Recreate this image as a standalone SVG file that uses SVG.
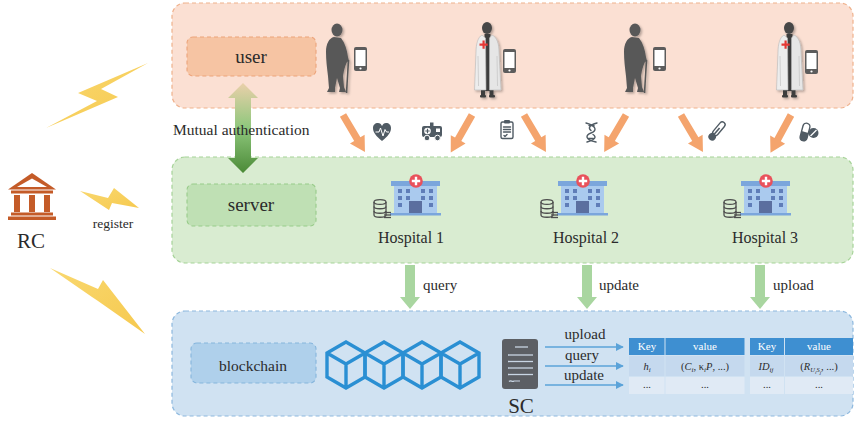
<svg xmlns="http://www.w3.org/2000/svg" xmlns:xlink="http://www.w3.org/1999/xlink" width="857" height="422" viewBox="0 0 857 422">
  <style>
    .serif { font-family: "Liberation Serif", "DejaVu Serif", serif; fill: #2b2b2b; }
    .panel { stroke-width: 1.2; stroke-dasharray: 4 3; }
    .lbl { stroke-width: 1.1; stroke-dasharray: 4 3; }
    .ico { fill: #505b64; }
    .icoS { fill: none; stroke: #505b64; stroke-width: 1.4; stroke-linecap: round; stroke-linejoin: round; }
    .bolt { fill: url(#boltGrad); }
    .cube { fill: none; stroke: #2a8fd3; stroke-width: 3.4; stroke-linejoin: miter; }
    .th { font-family: "Liberation Serif", serif; font-size: 11px; fill: #ffffff; text-anchor: middle; }
    .td { font-family: "Liberation Serif", serif; font-size: 10.5px; fill: #2b2b2b; text-anchor: middle; }
    .sc-line { stroke: #5ba3d9; stroke-width: 1.4; fill: none; }
    .bank { fill: #c45b28; }
  </style>
  <defs>
    <linearGradient id="authGrad" x1="0" y1="0" x2="0" y2="1">
      <stop offset="0" stop-color="#ead0aa"/>
      <stop offset="0.5" stop-color="#8ec77c"/>
      <stop offset="1" stop-color="#4b8a37"/>
    </linearGradient>
    <linearGradient id="boltGrad" x1="0" y1="0" x2="1" y2="1">
      <stop offset="0" stop-color="#f9d870"/>
      <stop offset="1" stop-color="#f6c94e"/>
    </linearGradient>
    <filter id="soft" x="-30%" y="-30%" width="160%" height="160%">
      <feDropShadow dx="1.5" dy="1.5" stdDeviation="1.3" flood-color="#000" flood-opacity="0.3"/>
    </filter>
    <marker id="blueHead" viewBox="0 0 10 10" refX="9" refY="5" markerWidth="8" markerHeight="8" markerUnits="userSpaceOnUse" orient="auto">
      <path d="M0,0 L10,5 L0,10 Z" fill="#5ba3d9"/>
    </marker>
    <!-- orange data arrow pointing along +x -->
    <path id="orangeArrow" d="M0,-3.6 L28,-3.6 L28,-8.5 L43,0 L28,8.5 L28,3.6 L0,3.6 Z" fill="#f4a46d"/>
    <!-- green down arrow -->
    <path id="greenArrow" d="M-5,0 L5,0 L5,32 L10,32 L0,44 L-10,32 L-5,32 Z" fill="#a9d6a0"/>
    <!-- elderly person with cane -->
    <g id="elder" filter="url(#soft)">
      <ellipse cx="337" cy="30" rx="5.5" ry="6.5" fill="#595959"/>
      <path d="M334,37 C329,38 326,44 326,52 C326,60 327,68 328,76 L329,88 L327,92 L335,92 L335,88 L337,78 L340,88 L339,92 L346,92 L344,87 L343,76 C344,70 345,66 347,62 L349,61 L348,57 C347,50 345,43 341,38 Z" fill="#595959"/>
      <line x1="348.5" y1="60" x2="346.5" y2="93" stroke="#595959" stroke-width="1.6"/>
    </g>
    <!-- doctor in white coat -->
    <g id="doctor" filter="url(#soft)">
      <ellipse cx="487" cy="28" rx="5" ry="6" fill="#474747"/>
      <rect x="484.5" y="34" width="6" height="57" fill="#3d3d3d"/>
      <rect x="481" y="88" width="4" height="8" fill="#3d3d3d"/>
      <rect x="489.5" y="88" width="4" height="8" fill="#3d3d3d"/>
      <rect x="480" y="95" width="6" height="2.5" rx="1" fill="#3d3d3d"/>
      <rect x="489" y="95" width="6" height="2.5" rx="1" fill="#3d3d3d"/>
      <path d="M482,35 C478,37 476,44 476,52 L474.5,90 L486,90 L485.5,38 Z" fill="#ededed" stroke="#b8b8b8" stroke-width="0.6"/>
      <path d="M492,35 C497,37 499,44 499,52 L501,90 L489.5,90 L489.5,38 Z" fill="#e6e6e6" stroke="#b8b8b8" stroke-width="0.6"/>
      <path d="M479.5,43.5 h3 v-3 h2.2 v3 h3 v2.2 h-3 v3 h-2.2 v-3 h-3 Z" fill="#e53935"/>
      <path d="M478,56 L478.5,86 M497,56 L497.5,86" stroke="#c8c8c8" stroke-width="0.8"/>
    </g>
    <!-- smartphone -->
    <g id="phone">
      <rect x="0" y="0" width="13" height="24" rx="2" fill="#5c5c5c"/>
      <rect x="1.5" y="3" width="10" height="16" fill="#ffffff"/>
      <circle cx="6.5" cy="21.5" r="1.1" fill="#ffffff"/>
    </g>
    <!-- hospital building with database -->
    <g id="hospital">
      <rect x="391" y="181" width="49" height="5" fill="#7ba6dc"/>
      <rect x="394" y="186" width="43" height="27" fill="#aacaee"/>
      <g fill="#5f7db8">
        <rect x="398" y="189" width="4" height="4"/><rect x="406" y="189" width="4" height="4"/>
        <rect x="421" y="189" width="4" height="4"/><rect x="429" y="189" width="4" height="4"/>
        <rect x="398" y="196" width="4" height="4"/><rect x="406" y="196" width="4" height="4"/>
        <rect x="421" y="196" width="4" height="4"/><rect x="429" y="196" width="4" height="4"/>
        <rect x="398" y="203" width="4" height="4"/><rect x="429" y="203" width="4" height="4"/>
      </g>
      <rect x="409" y="201" width="13" height="12" fill="#5b6f9f"/>
      <rect x="390" y="213" width="51" height="2.5" fill="#7ba6dc"/>
      <circle cx="416" cy="181" r="6.8" fill="#e9515b"/>
      <path d="M414.8,176.8 h2.4 v3 h3 v2.4 h-3 v3 h-2.4 v-3 h-3 v-2.4 h3 Z" fill="#ffffff"/>
      <g fill="none" stroke="#4d4d4d" stroke-width="1.3">
        <ellipse cx="380" cy="202" rx="6" ry="2.4"/>
        <path d="M374,202 V215 C374,218 386,218 386,215 V202"/>
        <path d="M374,206.5 C374,209.5 386,209.5 386,206.5"/>
        <path d="M374,211 C374,214 386,214 386,211"/>
      </g>
      <g stroke="#4d4d4d" stroke-width="1.3">
        <line x1="384" y1="212.5" x2="391" y2="212.5"/>
        <line x1="384" y1="215" x2="391" y2="215"/>
        <line x1="384" y1="217.5" x2="391" y2="217.5"/>
      </g>
    </g>
    <!-- isometric block -->
    <path id="block" d="M0,-22 L19,-11 L19,13 L0,24 L-19,13 L-19,-11 Z M-19,-11 L0,0 L19,-11 M0,0 L0,24" class="cube"/>
  </defs>

  <!-- layer panels -->
  <g id="user-layer">
    <rect x="172" y="3" width="681" height="105" rx="13" class="panel" fill="#fbe0d3" stroke="#efb18c"/>
    <rect x="187" y="37" width="129" height="39" rx="6" class="lbl" fill="#f6c4a3" stroke="#eca47b"/>
    <text x="251" y="63" class="serif" font-size="19" text-anchor="middle">user</text>
  </g>
  <g id="server-layer">
    <rect x="172" y="157" width="681" height="106" rx="13" class="panel" fill="#d9ecd1" stroke="#a6d398"/>
    <rect x="187" y="184" width="129" height="42" rx="6" class="lbl" fill="#bfe0b4" stroke="#98cb8a"/>
    <text x="251" y="211" class="serif" font-size="19" text-anchor="middle">server</text>
  </g>
  <g id="blockchain-layer">
    <rect x="172" y="311" width="681" height="105" rx="13" class="panel" fill="#d0e2f2" stroke="#8db8de"/>
    <rect x="191" y="343" width="125" height="40" rx="6" class="lbl" fill="#afd0eb" stroke="#85b5dc"/>
    <text x="253" y="371" class="serif" font-size="15.5" text-anchor="middle">blockchain</text>
  </g>

  <!-- users -->
  <g id="user-1">
    <use href="#elder"/>
    <use href="#phone" transform="translate(354,47)"/>
  </g>
  <g id="user-2">
    <use href="#doctor"/>
    <use href="#phone" transform="translate(503,49)"/>
  </g>
  <g id="user-3">
    <use href="#elder" transform="translate(298,0)"/>
    <use href="#phone" transform="translate(653,47)"/>
  </g>
  <g id="user-4">
    <use href="#doctor" transform="translate(302,0)"/>
    <use href="#phone" transform="translate(805,50)"/>
  </g>

  <!-- health data icons -->
  <g id="data-icons">
    <path class="ico" d="M382,141 C376,136 373,132.5 373,128 C373,125 375,123 378,123 C380,123 381,124 382,126 C383,124 384,123 386,123 C389,123 391,125 391,128 C391,132.5 388,136 382,141 Z"/>
    <polyline points="375.5,132 379,132 380.5,128 383,136 385,129.5 386.5,132 389,132" fill="none" stroke="#ffffff" stroke-width="1"/>
    <g>
      <rect x="422" y="126" width="20" height="11" rx="2" class="ico"/>
      <rect x="430" y="122.5" width="3.5" height="3.5" class="ico"/>
      <circle cx="427.5" cy="131" r="3.3" fill="#ffffff"/>
      <path d="M426.9,128.8 h1.2 v1.6 h1.6 v1.2 h-1.6 v1.6 h-1.2 v-1.6 h-1.6 v-1.2 h1.6 Z" class="ico"/>
      <rect x="436" y="128.5" width="4" height="3.5" fill="#ffffff"/>
      <circle cx="427" cy="138" r="2.8" class="ico" stroke="#ffffff" stroke-width="1"/>
      <circle cx="437.5" cy="138" r="2.8" class="ico" stroke="#ffffff" stroke-width="1"/>
    </g>
    <g>
      <rect x="501" y="122" width="12" height="16.5" rx="1.5" class="icoS"/>
      <rect x="504" y="120" width="6" height="3.5" rx="1" class="ico"/>
      <path d="M503.5,127 h7 M503.5,129.5 h7 M503.5,132 h7 M504,135.5 l1,1 l2,-2" class="icoS" stroke-width="1"/>
    </g>
    <g>
      <path d="M586,123 C597,126 597,131 591,133 C585,135 585,140 596,142" class="icoS" stroke-width="1.6"/>
      <path d="M597,123 C589,125 588,128 591,130.5 M593,134.5 C597,137 595,140 587,142" class="icoS" stroke-width="1.6"/>
      <path d="M589,125.5 h5 M588.5,138.5 h5" class="icoS" stroke-width="1"/>
    </g>
    <g transform="rotate(40 717 131)">
      <rect x="714.2" y="120" width="5.6" height="16" rx="2.8" class="icoS" stroke-width="1.3"/>
      <circle cx="717" cy="138.5" r="3.8" class="ico"/>
      <line x1="717" y1="127" x2="717" y2="137" stroke="#505b64" stroke-width="1.6"/>
    </g>
    <g>
      <g transform="rotate(15 805 132)">
        <rect x="801.5" y="123" width="7" height="18" rx="3.5" class="icoS" stroke-width="1.3"/>
        <path d="M801.5,132 h7 v5.5 a3.5,3.5 0 0 1 -7,0 Z" class="ico"/>
      </g>
      <circle cx="813.5" cy="133" r="5" class="ico"/>
      <line x1="810.5" y1="136" x2="816.5" y2="130" stroke="#ffffff" stroke-width="1.2"/>
    </g>
  </g>

  <!-- servers -->
  <g id="hospital-1">
    <use href="#hospital"/>
    <text x="411" y="243" class="serif" font-size="16" text-anchor="middle">Hospital 1</text>
  </g>
  <g id="hospital-2">
    <use href="#hospital" transform="translate(167,0)"/>
    <text x="586" y="243" class="serif" font-size="16" text-anchor="middle">Hospital 2</text>
  </g>
  <g id="hospital-3">
    <use href="#hospital" transform="translate(350,0)"/>
    <text x="765" y="243" class="serif" font-size="16" text-anchor="middle">Hospital 3</text>
  </g>

  <!-- registration centre -->
  <g id="rc">
    <path class="bank" d="M32,173 L56,189.5 L8,189.5 Z"/>
    <path d="M32,178.5 L47,187 L17,187 Z" fill="#ffffff"/>
    <rect x="11" y="190.5" width="42" height="3" class="bank"/>
    <rect x="14" y="195" width="6" height="17" class="bank"/>
    <rect x="29" y="195" width="6" height="17" class="bank"/>
    <rect x="44" y="195" width="6" height="17" class="bank"/>
    <rect x="11" y="212.5" width="42" height="3" class="bank"/>
    <rect x="8" y="216.5" width="48" height="3.5" class="bank"/>
    <text x="31" y="248" class="serif" font-size="21" text-anchor="middle">RC</text>
    <polygon class="bolt" points="148,63 101,89 118,97 46,128 97,101 78,93"/>
    <polygon class="bolt" points="80,191 108,198 114,188 139,208 112,203 109,210"/>
    <polygon class="bolt" points="50,268 98,289 103,280 145,334 98,301 92,297"/>
    <text x="113" y="228" class="serif" font-size="13.5" text-anchor="middle">register</text>
  </g>

  <!-- blockchain ledger -->
  <g id="chain">
    <use href="#block" transform="translate(346,364)"/>
    <use href="#block" transform="translate(384,364)"/>
    <use href="#block" transform="translate(422,364)"/>
    <use href="#block" transform="translate(460,364)"/>
  </g>
  <g id="smart-contract">
    <rect x="502" y="339" width="36" height="50" rx="3" fill="#5c5f64"/>
    <g stroke="#c9d6e4" stroke-width="1.3">
      <line x1="515" y1="347" x2="528" y2="347"/>
      <line x1="508" y1="355" x2="533" y2="355"/>
      <line x1="508" y1="361.5" x2="533" y2="361.5"/>
      <line x1="508" y1="368" x2="533" y2="368"/>
      <line x1="508" y1="374.5" x2="533" y2="374.5"/>
    </g>
    <path d="M509,381.5 c2,-2 3,1 5,-0.5 h6" fill="none" stroke="#c9d6e4" stroke-width="1.2"/>
    <text x="521" y="413" class="serif" font-size="21" text-anchor="middle">SC</text>
  </g>
  <g id="table-1">
    <rect x="629" y="338" width="35.5" height="17" fill="#3e8fd1"/>
    <rect x="665.5" y="338" width="79" height="17" fill="#3e8fd1"/>
    <rect x="629" y="356" width="35.5" height="20" fill="#c5d9ee"/>
    <rect x="665.5" y="356" width="79" height="20" fill="#c5d9ee"/>
    <rect x="629" y="377" width="35.5" height="17" fill="#e0eaf5"/>
    <rect x="665.5" y="377" width="79" height="17" fill="#e0eaf5"/>
    <text x="647" y="350" class="th">Key</text>
    <text x="705" y="350" class="th">value</text>
    <text x="647" y="370" class="td" font-style="italic">h<tspan font-size="7" dy="2">i</tspan></text>
    <text x="705" y="370" class="td">(<tspan font-style="italic">C</tspan><tspan font-size="7" dy="2" font-style="italic">i</tspan><tspan dy="-2">, κ</tspan><tspan font-size="7" dy="2" font-style="italic">i</tspan><tspan dy="-2" font-style="italic">P</tspan>, ...)</text>
    <text x="647" y="388" class="td" font-size="8">...</text>
    <text x="705" y="388" class="td" font-size="8">...</text>
  </g>
  <g id="table-2">
    <rect x="750" y="338" width="34" height="17" fill="#3e8fd1"/>
    <rect x="785" y="338" width="68" height="17" fill="#3e8fd1"/>
    <rect x="750" y="356" width="34" height="20" fill="#c5d9ee"/>
    <rect x="785" y="356" width="68" height="20" fill="#c5d9ee"/>
    <rect x="750" y="377" width="34" height="17" fill="#e0eaf5"/>
    <rect x="785" y="377" width="68" height="17" fill="#e0eaf5"/>
    <text x="767" y="350" class="th">Key</text>
    <text x="819" y="350" class="th">value</text>
    <text x="766" y="370" class="td" font-style="italic">ID<tspan font-size="7" dy="2">ij</tspan></text>
    <text x="819" y="370" class="td">(<tspan font-style="italic">R</tspan><tspan font-size="6.5" dy="2" font-style="italic">U</tspan><tspan font-size="5" dy="1.5" font-style="italic">i</tspan><tspan font-size="6.5" dy="-1.5" font-style="italic">S</tspan><tspan font-size="5" dy="1.5" font-style="italic">j</tspan><tspan dy="-3.5">, ...)</tspan></text>
    <text x="767" y="388" class="td" font-size="8">...</text>
    <text x="819" y="388" class="td" font-size="8">...</text>
  </g>

  <!-- connectors -->
  <g id="connectors">
    <path d="M243,83 L258,98 L251,98 L251,158 L258,158 L243,173 L228,158 L235,158 L235,98 L228,98 Z" fill="url(#authGrad)"/>
    <use href="#orangeArrow" transform="translate(343,115) rotate(59.3)"/>
    <use href="#orangeArrow" transform="translate(472,115) rotate(119.6)"/>
    <use href="#orangeArrow" transform="translate(524,115) rotate(59.3)"/>
    <use href="#orangeArrow" transform="translate(626,115) rotate(120.5)"/>
    <use href="#orangeArrow" transform="translate(681,115) rotate(59.3)"/>
    <use href="#orangeArrow" transform="translate(791,115) rotate(118.5)"/>
    <use href="#greenArrow" transform="translate(410,265)"/>
    <use href="#greenArrow" transform="translate(587,265)"/>
    <use href="#greenArrow" transform="translate(760,265)"/>
    <line x1="545" y1="347" x2="623" y2="347" class="sc-line" marker-end="url(#blueHead)"/>
    <line x1="545" y1="366" x2="623" y2="366" class="sc-line" marker-end="url(#blueHead)"/>
    <line x1="545" y1="385" x2="623" y2="385" class="sc-line" marker-end="url(#blueHead)"/>
  </g>

  <!-- connector labels -->
  <g id="labels">
    <text x="173" y="135" class="serif" font-size="15.5">Mutual authentication</text>
    <text x="423" y="290" class="serif" font-size="15">query</text>
    <text x="599" y="290" class="serif" font-size="15">update</text>
    <text x="773" y="290" class="serif" font-size="15">upload</text>
    <text x="585" y="339" class="serif" font-size="15" text-anchor="middle">upload</text>
    <text x="582" y="360" class="serif" font-size="15" text-anchor="middle">query</text>
    <text x="584" y="380" class="serif" font-size="15" text-anchor="middle">update</text>
  </g>
</svg>
